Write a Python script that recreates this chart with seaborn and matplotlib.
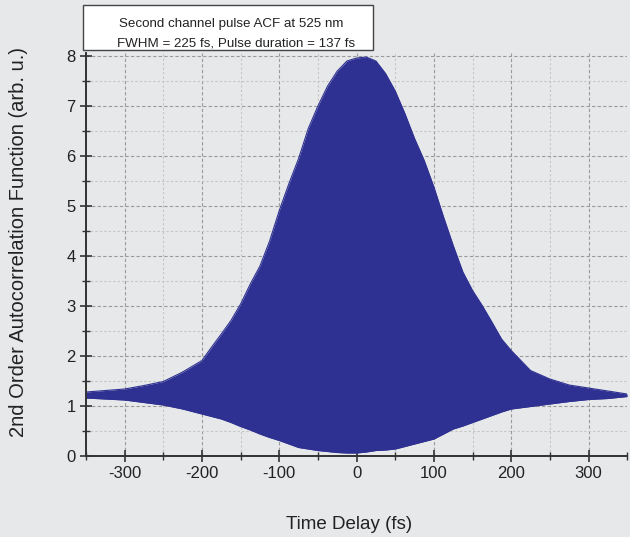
import matplotlib
matplotlib.use('Agg')
import matplotlib.pyplot as plt
from matplotlib.patches import Rectangle
from matplotlib.ticker import MultipleLocator
import seaborn as sns
import pandas as pd

# envelope of the interferometric ACF
delay_fs = [-350, -325, -300, -275, -250, -225, -200, -187.5, -175, -162.5, -150,
            -137.5, -125, -112.5, -100, -87.5, -75, -62.5, -50, -37.5, -25, -12.5,
            0, 12.5, 25, 37.5, 50, 62.5, 75, 87.5, 100, 112.5, 125, 137.5, 150,
            162.5, 175, 187.5, 200, 225, 250, 275, 300, 325, 350]
upper = [1.28, 1.31, 1.34, 1.41, 1.49, 1.68, 1.91, 2.18, 2.44, 2.71, 3.04,
         3.44, 3.80, 4.30, 4.91, 5.45, 5.95, 6.55, 7.00, 7.40, 7.70, 7.90,
         7.96, 7.98, 7.90, 7.65, 7.30, 6.85, 6.35, 5.91, 5.38, 4.78, 4.21, 3.68, 3.31,
         3.01, 2.68, 2.34, 2.11, 1.71, 1.54, 1.42, 1.36, 1.30, 1.24]
lower = [1.16, 1.14, 1.12, 1.07, 1.02, 0.94, 0.84, 0.79, 0.74, 0.67, 0.59,
         0.52, 0.44, 0.37, 0.31, 0.24, 0.17, 0.14, 0.11, 0.09, 0.07, 0.06,
         0.06, 0.08, 0.11, 0.12, 0.14, 0.19, 0.24, 0.29, 0.34, 0.44, 0.54, 0.60, 0.67,
         0.74, 0.81, 0.88, 0.94, 0.99, 1.04, 1.09, 1.13, 1.15, 1.19]

x_ticks = [-300, -200, -100, 0, 100, 200, 300]
y_ticks = [0, 1, 2, 3, 4, 5, 6, 7, 8]
title_lines = ['Second channel pulse ACF at 525 nm',
               'FWHM = 225 fs, Pulse duration = 137 fs']

df = pd.DataFrame({'delay': delay_fs, 'upper': upper, 'lower': lower})

bg = '#e7e8e9'
blue = '#2e3192'

sns.set_style('ticks', {'axes.facecolor': bg, 'figure.facecolor': bg})
plt.rcParams['font.family'] = ['Liberation Sans', 'DejaVu Sans']
plt.rcParams['axes.unicode_minus'] = False

fig = plt.figure(figsize=(6.3, 5.37), dpi=100)
ax = fig.add_axes([0.1365, 0.1508, 0.859, 0.7505])

ax.fill_between(df['delay'], df['lower'], df['upper'], color=blue, lw=0, zorder=3)
sns.lineplot(data=df, x='delay', y='upper', ax=ax, color=blue, lw=0.8, zorder=3)
sns.lineplot(data=df, x='delay', y='lower', ax=ax, color=blue, lw=0.8, zorder=3)

ax.set_xlim(-350, 350)
ax.set_ylim(0, 8.06)
ax.set_xticks(x_ticks)
ax.set_yticks(y_ticks)
ax.xaxis.set_minor_locator(MultipleLocator(50))
ax.yaxis.set_minor_locator(MultipleLocator(0.5))

# grid: dashed majors, lighter minors
ax.grid(which='major', color='#9a9a9a', ls=(0, (3, 2)), lw=0.8, zorder=1)
ax.grid(which='minor', color='#c4c4c4', ls=(0, (2, 2)), lw=0.8, zorder=1)
ax.set_axisbelow(True)

for s in ['top', 'right']:
    ax.spines[s].set_visible(False)
for s in ['left', 'bottom']:
    ax.spines[s].set_color('#333333')
    ax.spines[s].set_linewidth(1.4)
    ax.spines[s].set_zorder(5)

ax.tick_params(which='major', direction='inout', length=9, width=1.2,
               colors='#333333', labelsize=12, labelcolor='#222222', pad=3)
ax.tick_params(which='minor', direction='inout', length=6, width=1.0, colors='#333333')

ax.set_xlabel('Time Delay (fs)', fontsize=13.5, color='#222222')
ax.set_ylabel('2nd Order Autocorrelation Function (arb. u.)', fontsize=14.5,
              color='#222222')
ax.xaxis.set_label_coords(0.486, -0.148)
ax.yaxis.set_label_coords(-0.107, 0.531)

# caption box at top
fig.patches.append(Rectangle((83 / 630, 1 - 50 / 537), 290 / 630, 45 / 537,
                             transform=fig.transFigure, facecolor='white',
                             edgecolor='#444444', lw=1.0, zorder=10))
fig.text(119 / 630, 1 - 24 / 537, title_lines[0], fontsize=9.6, color='#222222',
         ha='left', va='center', zorder=11)
fig.text(117 / 630, 1 - 43 / 537, title_lines[1], fontsize=9.6, color='#222222',
         ha='left', va='center', zorder=11)

fig.savefig('out.png', dpi=100, facecolor=bg)
